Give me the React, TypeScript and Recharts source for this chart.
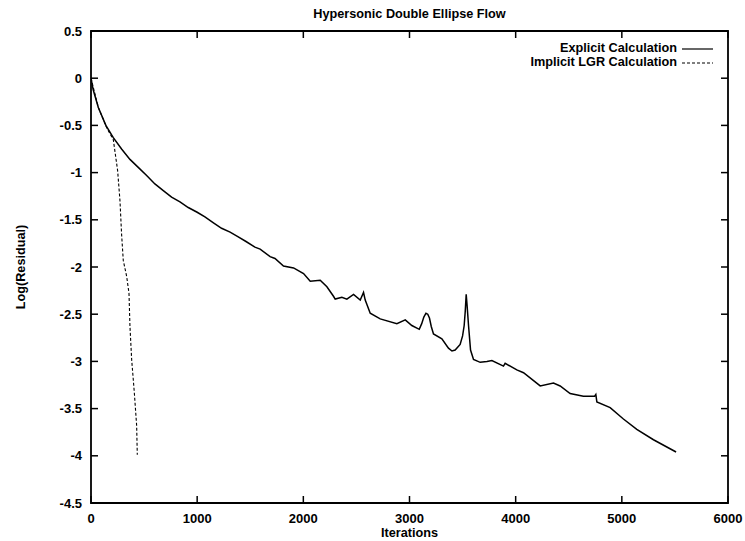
import React from 'react';
import {
  LineChart, Line, XAxis, YAxis, ReferenceArea, Legend,
} from 'recharts';

// explicit scheme
const explicitIter = [
  0, 20, 69, 140, 210, 288, 367, 445, 524, 602, 681, 759, 838, 916, 1000,
  1073, 1150, 1230, 1310, 1387, 1460, 1544, 1593, 1687, 1733, 1813, 1908,
  2002, 2065, 2159, 2222, 2284, 2300, 2363, 2410, 2473, 2536, 2567, 2583,
  2630, 2724, 2881, 2960, 3022, 3092, 3115, 3135, 3155, 3172, 3188, 3205,
  3226, 3305, 3367, 3400, 3430, 3477, 3500, 3515, 3525, 3534, 3542, 3556,
  3575, 3603, 3666, 3729, 3776, 3885, 3901, 4011, 4074, 4231, 4356, 4419,
  4513, 4638, 4742, 4755, 4765, 4890, 5015, 5141, 5298, 5511,
];
const explicitLog = [
  0, -0.12, -0.31, -0.5, -0.63, -0.75, -0.86, -0.945, -1.03, -1.12, -1.19,
  -1.26, -1.31, -1.37, -1.42, -1.47, -1.53, -1.59, -1.63, -1.68, -1.73,
  -1.79, -1.81, -1.89, -1.91, -1.99, -2.01, -2.07, -2.15, -2.14, -2.21,
  -2.31, -2.34, -2.32, -2.34, -2.29, -2.35, -2.27, -2.35, -2.49, -2.55,
  -2.6, -2.56, -2.62, -2.66, -2.6, -2.53, -2.49, -2.5, -2.54, -2.63,
  -2.71, -2.76, -2.86, -2.89, -2.88, -2.82, -2.73, -2.62, -2.47, -2.29,
  -2.4, -2.62, -2.88, -2.98, -3.01, -3.0, -2.99, -3.05, -3.02, -3.09,
  -3.12, -3.26, -3.23, -3.26, -3.34, -3.37, -3.37, -3.35, -3.43, -3.49,
  -3.61, -3.72, -3.83, -3.96,
];

// implicit LGR scheme
const implicitIter = [0, 69, 150, 210, 251, 273, 288, 304, 336, 358, 367, 383, 408, 430, 436];
const implicitLog = [0, -0.31, -0.53, -0.65, -0.98, -1.3, -1.65, -1.93, -2.1, -2.28, -2.63, -2.98, -3.33, -3.68, -3.99];

const xTicks = [0, 1000, 2000, 3000, 4000, 5000, 6000];
const yTicks = [0.5, 0, -0.5, -1, -1.5, -2, -2.5, -3, -3.5, -4, -4.5];

const explicitData = explicitIter.map((it, i) => ({ it, log: explicitLog[i] }));
const implicitData = implicitIter.map((it, i) => ({ it, log: implicitLog[i] }));

const FONT = '"Liberation Sans", Arial, Helvetica, sans-serif';
const PLOT_W = 637;
const PLOT_H = 472;
const TICK = 7;

function XTick({ x, y, payload }: any) {
  return (
    <g>
      <line x1={x} y1={y} x2={x} y2={y - TICK} stroke="#000" strokeWidth={1.5} />
      <line x1={x} y1={y - PLOT_H} x2={x} y2={y - PLOT_H + TICK} stroke="#000" strokeWidth={1.5} />
      <text x={x} y={y + 20} textAnchor="middle" fontFamily={FONT} fontWeight={700} fontSize={13} fill="#000">
        {payload.value}
      </text>
    </g>
  );
}

function YTick({ x, y, payload }: any) {
  return (
    <g>
      <line x1={x} y1={y} x2={x + TICK} y2={y} stroke="#000" strokeWidth={1.5} />
      <line x1={x + PLOT_W - TICK} y1={y} x2={x + PLOT_W} y2={y} stroke="#000" strokeWidth={1.5} />
      <text x={x - 9} y={y} dy="0.36em" textAnchor="end" fontFamily={FONT} fontWeight={700} fontSize={13} fill="#000">
        {payload.value}
      </text>
    </g>
  );
}

function renderLegend(props: any) {
  const items = props.payload || [];
  return (
    <div style={{ display: 'flex', flexDirection: 'column', alignItems: 'flex-end' }}>
      {items.map((entry: any) => (
        <div key={entry.value} style={{ display: 'flex', alignItems: 'center', height: 14 }}>
          <span style={{ fontFamily: FONT, fontWeight: 700, fontSize: 12.7, lineHeight: '14px', color: '#000' }}>
            {entry.value}
          </span>
          <svg width={36} height={14} style={{ display: 'block' }}>
            <line
              x1={5} y1={8} x2={36} y2={8} stroke="#000" strokeWidth={1.2}
              strokeDasharray={entry.value.startsWith('Implicit') ? '3 2' : undefined}
            />
          </svg>
        </div>
      ))}
    </div>
  );
}

export default function App() {
  return (
    <div style={{ position: 'absolute', left: 0, top: 0, width: 745, height: 541, background: '#fff' }}>
      <div style={{
        position: 'absolute', left: 91, top: 7, width: PLOT_W, textAlign: 'center',
        fontFamily: FONT, fontWeight: 700, fontSize: 12.7, lineHeight: '14px', color: '#000',
      }}>
        Hypersonic Double Ellipse Flow
      </div>
      <LineChart width={745} height={541} margin={{ top: 31, right: 17, bottom: 0, left: 0 }}>
        <XAxis
          dataKey="it" type="number" domain={[0, 6000]} ticks={xTicks}
          height={38} axisLine={false} tickLine={false} tickSize={0} tickMargin={0}
          tick={<XTick />} interval={0} allowDataOverflow
          label={{ value: 'Iterations', position: 'insideBottom', offset: 4, fill: '#000', fontFamily: FONT, fontWeight: 700, fontSize: 12.7 }}
        />
        <YAxis
          dataKey="log" type="number" domain={[-4.5, 0.5]} ticks={yTicks}
          width={91} axisLine={false} tickLine={false} tickSize={0} tickMargin={0}
          tick={<YTick />} interval={0} allowDataOverflow
          label={{ value: 'Log(Residual)', angle: -90, position: 'insideLeft', offset: 20, fill: '#000', fontFamily: FONT, fontWeight: 700, fontSize: 12.7, style: { textAnchor: 'middle' } }}
        />
        <ReferenceArea x1={0} x2={6000} y1={-4.5} y2={0.5} fill="none" fillOpacity={0} stroke="#000" strokeWidth={1.8} />
        <Legend
          verticalAlign="middle" align="center" layout="vertical"
          wrapperStyle={{ left: 380, top: 41, width: 333 }}
          content={renderLegend}
        />
        <Line
          data={explicitData} dataKey="log" name="Explicit Calculation" type="linear"
          stroke="#000" strokeWidth={1.5} dot={false} isAnimationActive={false}
        />
        <Line
          data={implicitData} dataKey="log" name="Implicit LGR Calculation" type="linear"
          stroke="#000" strokeWidth={1.1} strokeDasharray="3 2" dot={false} isAnimationActive={false}
        />
      </LineChart>
    </div>
  );
}
